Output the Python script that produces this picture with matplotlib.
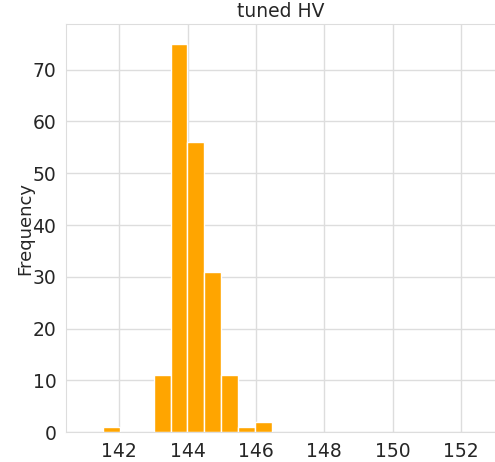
'''
Histogram of the tuned HV values (bin counts read off the figure)
'''

# Imports
import numpy as np
import matplotlib
matplotlib.use('Agg')
import matplotlib.pyplot as plt

# Data: bin edges and counts
bin_start = 141.52
bin_width = 0.495
counts = [1, 0, 0, 11, 75, 56, 31, 11, 1, 2]
xticks = [142, 144, 146, 148, 150, 152]
yticks = [0, 10, 20, 30, 40, 50, 60, 70]
title = 'tuned HV'
ylabel = 'Frequency'

text_col = '#262626'
grid_col = '#dddddd'


def main():
    '''draws the histogram'''
    edges = bin_start + bin_width * np.arange(len(counts) + 1)
    fig = plt.figure(figsize=(4.95, 4.62), dpi=100)
    ax = fig.add_axes([66/495, 29.7/462, 1 - 66/495, 408/462])
    # histogram from the bin counts
    ax.hist(edges[:-1], bins=edges, weights=counts, color='orange',
            edgecolor='white', linewidth=1, zorder=2)
    ax.set_xlim(140.44, 153.0)
    ax.set_xticks(xticks)
    ax.set_yticks(yticks)
    ax.grid(True, color=grid_col, linewidth=1, zorder=0)
    ax.set_axisbelow(True)
    for side in ['left', 'bottom', 'top']:
        ax.spines[side].set_color(grid_col)
    ax.spines['right'].set_visible(False)
    ax.tick_params(length=0, labelsize=13.5, labelcolor=text_col, pad=7)
    ax.set_title(title, fontsize=13.5, color=text_col, pad=5)
    ax.set_ylabel(ylabel, fontsize=13, color=text_col, labelpad=-1)
    fig.savefig('out.png', dpi=100)


if __name__ == '__main__':
    main()
